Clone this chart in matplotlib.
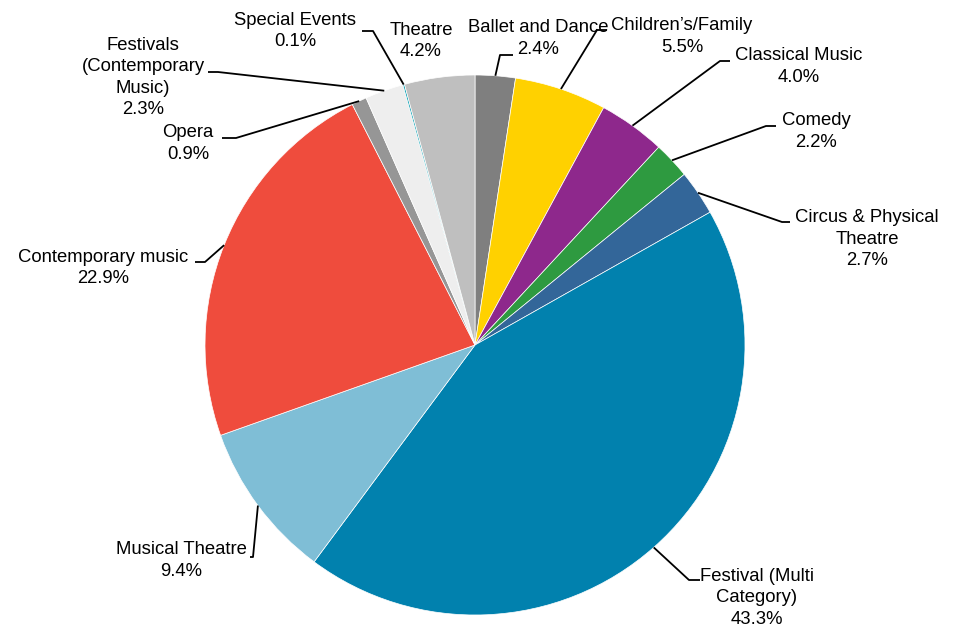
import numpy as np
import matplotlib
matplotlib.use('Agg')
import matplotlib.pyplot as plt

plt.rcParams['font.family'] = ['Liberation Sans', 'DejaVu Sans']

# data, clockwise from 12 o'clock
categories = ['Ballet and Dance', 'Children\u2019s/Family', 'Classical Music', 'Comedy',
              'Circus & Physical\nTheatre', 'Festival (Multi\nCategory)', 'Musical Theatre',
              'Contemporary music', 'Opera', 'Festivals\n(Contemporary\nMusic)',
              'Special Events', 'Theatre']
shares = [2.4, 5.5, 4.0, 2.2, 2.7, 43.3, 9.4, 22.9, 0.9, 2.3, 0.1, 4.2]
colors = ['#7f7f7f', '#ffd100', '#8e288c', '#2e9a40', '#336699', '#0181ae',
          '#7fbed6', '#ef4c3d', '#969696', '#eeeeee', '#14a3b5', '#bfbfbf']

# label layout in image pixels: (elbow x, elbow y, line end x, text cx, text cy); None = no leader
layout = [
    (500, 55, 513, 538, 38.5),
    (597, 30, 607, 682, 36.5),
    (720, 61, 730, 799, 66.5),
    (766, 126, 776, 816, 131.5),
    (782, 222, 790, 867, 239),
    (689, 580, 700, 757, 598),
    (253, 557, 250, 181, 560.5),
    (205, 262, 195, 103, 268),
    (236, 138, 222, 188, 143.5),
    (218, 72, 208, 143, 77.5),
    (373, 31, 362, 295, 31),
    (None, None, None, 421, 41),
]

W, H = 959, 627
cx, cy, R = 475, 627 - 345, 270

fig = plt.figure(figsize=(W / 100, H / 100), dpi=100)
ax = fig.add_axes([0, 0, 1, 1])

wedges, _ = ax.pie(shares, colors=colors, startangle=90, counterclock=False,
                   center=(cx, cy), radius=R, frame=False,
                   wedgeprops=dict(edgecolor='white', linewidth=0.5))
ax.set_xlim(0, W)
ax.set_ylim(0, H)
ax.set_aspect('equal')
ax.axis('off')

for ww, name, val, lay in zip(wedges, categories, shares, layout):
    ex, ey, endx, tx, ty = lay
    if ex is not None:
        mid = np.deg2rad((ww.theta1 + ww.theta2) / 2.0)
        ax_ = cx + R * np.cos(mid)
        ay_ = cy + R * np.sin(mid)
        ax.plot([ax_, ex, endx], [ay_, H - ey, H - ey], color='black', lw=1.3,
                solid_capstyle='butt', zorder=3)
    ax.text(tx, H - ty, '%s\n%.1f%%' % (name, val), ha='center', va='center',
            multialignment='center', fontsize=13.3, color='black', linespacing=1.33)

fig.savefig('out.png', dpi=100)
